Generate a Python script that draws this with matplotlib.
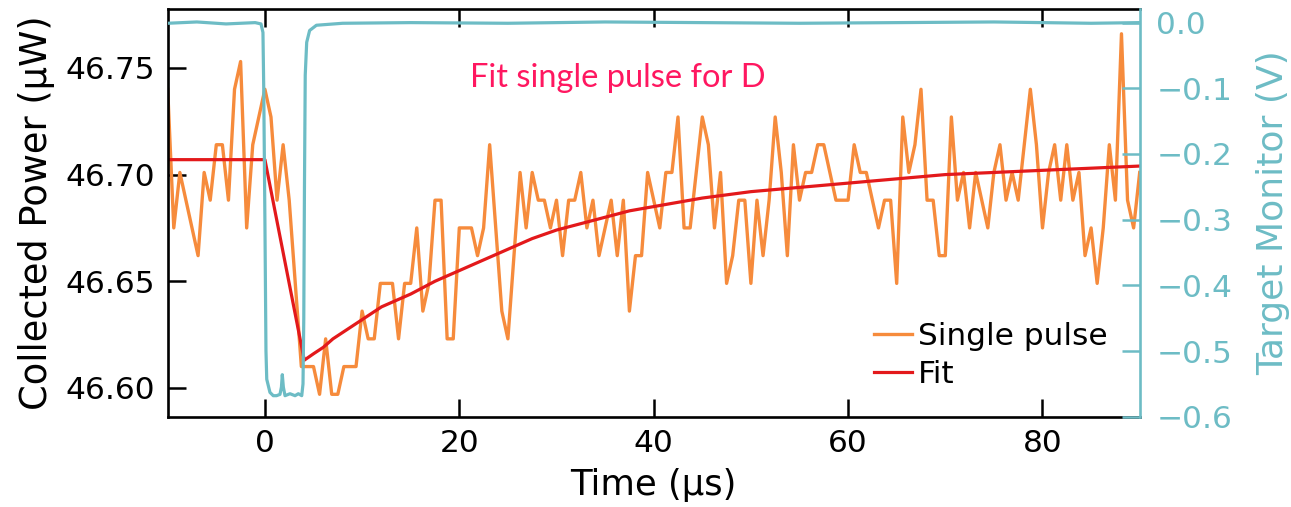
#!/usr/bin/env python3
"""Single-pulse recovery: collected power, exponential fit and target monitor trace."""

import numpy as np
import matplotlib
matplotlib.use('Agg')
import matplotlib.pyplot as plt

ORANGE = '#f68b3c'
RED = '#e3191b'
CYAN = '#6dbcc5'
PINK = '#ff1760'

# collected power, one sample every 0.625 us starting at -10 us (uW)
T_START = -10.0
T_STEP = 0.625
POWER = [
    46.740, 46.675, 46.701, 46.688, 46.675, 46.662, 46.701, 46.688, 46.714, 46.714,
    46.688, 46.740, 46.753, 46.675, 46.714, 46.727, 46.740, 46.727, 46.688, 46.714,
    46.688, 46.649, 46.610, 46.610, 46.610, 46.597, 46.623, 46.597, 46.597, 46.610,
    46.610, 46.610, 46.636, 46.623, 46.623, 46.649, 46.649, 46.649, 46.623, 46.649,
    46.649, 46.675, 46.636, 46.649, 46.688, 46.688, 46.623, 46.623, 46.675, 46.675,
    46.675, 46.662, 46.675, 46.714, 46.675, 46.636, 46.623, 46.662, 46.701, 46.675,
    46.701, 46.688, 46.688, 46.675, 46.688, 46.662, 46.688, 46.688, 46.701, 46.675,
    46.688, 46.662, 46.675, 46.688, 46.662, 46.688, 46.636, 46.662, 46.662, 46.701,
    46.688, 46.675, 46.701, 46.701, 46.727, 46.675, 46.675, 46.701, 46.727, 46.714,
    46.675, 46.701, 46.649, 46.662, 46.688, 46.688, 46.649, 46.688, 46.662, 46.688,
    46.727, 46.701, 46.662, 46.714, 46.688, 46.701, 46.701, 46.714, 46.714, 46.701,
    46.688, 46.688, 46.688, 46.714, 46.701, 46.701, 46.688, 46.675, 46.688, 46.688,
    46.649, 46.727, 46.701, 46.714, 46.740, 46.688, 46.688, 46.662, 46.662, 46.727,
    46.688, 46.701, 46.675, 46.701, 46.688, 46.675, 46.701, 46.714, 46.688, 46.701,
    46.688, 46.714, 46.740, 46.714, 46.675, 46.701, 46.714, 46.688, 46.714, 46.688,
    46.701, 46.662, 46.675, 46.649, 46.675, 46.714, 46.688, 46.766, 46.688, 46.675,
    46.701,
]

# fitted curve
FIT_T = [-10, 0, 4.05, 5, 6, 7, 8, 9, 10, 11, 12, 13.5, 15, 17.5, 20, 22.5, 25,
         27.5, 30, 32.5, 35, 37.5, 40, 45, 50, 55, 60, 65, 70, 75, 80, 85, 90]
FIT_P = [46.707, 46.707, 46.613, 46.616, 46.619, 46.623, 46.626, 46.629, 46.632,
         46.635, 46.638, 46.641, 46.644, 46.650, 46.655, 46.660, 46.665, 46.670,
         46.674, 46.677, 46.680, 46.683, 46.685, 46.689, 46.692, 46.694, 46.696,
         46.698, 46.700, 46.701, 46.702, 46.703, 46.704]

# target monitor (V)
MON_T = [-10, -7, -4, -1, -0.4, -0.2, -0.12, 0.0, 0.11, 0.19, 0.52, 0.86, 1.2,
         1.55, 1.7, 1.79, 1.9, 2.07, 2.58, 3.1, 3.44, 3.79, 3.92, 4.0, 4.07,
         4.15, 4.3, 4.6, 5.3, 8, 15, 25, 35, 45, 55, 65, 75, 85, 90]
MON_V = [-0.001, 0.001, -0.002, 0.0, -0.002, -0.015, -0.1, -0.3, -0.5, -0.543,
         -0.563, -0.568, -0.568, -0.566, -0.555, -0.536, -0.555, -0.568, -0.565,
         -0.568, -0.565, -0.568, -0.55, -0.45, -0.25, -0.08, -0.03, -0.012,
         -0.004, -0.001, 0.0, -0.001, 0.001, 0.0, -0.001, 0.0, 0.001, -0.001, 0.0]


def plot():
    fig = plt.figure(figsize=(12.91, 5.07), dpi=100)
    ax = fig.add_axes([0.1299, 0.1781, 0.7529, 0.8032])
    ax2 = ax.twinx()

    t = T_START + T_STEP * np.arange(len(POWER))
    ax.plot(t, POWER, color=ORANGE, lw=2.4, label='Single pulse')
    ax.plot(FIT_T, FIT_P, color=RED, lw=2.3, label='Fit')
    ax2.plot(MON_T, MON_V, color=CYAN, lw=2.3)

    ax.set_xlim(-10, 90)
    ax.set_ylim(46.5865, 46.7774)
    ax2.set_ylim(-0.6, 0.02)
    ax.set_xticks([0, 20, 40, 60, 80])
    ax.set_yticks([46.60, 46.65, 46.70, 46.75])
    ax2.set_yticks([-0.6, -0.5, -0.4, -0.3, -0.2, -0.1, 0.0])
    ax.ticklabel_format(axis='y', useOffset=False)

    ax.tick_params(direction='in', length=13, width=1.8, top=True,
                   labelsize=22.5, pad=9)
    ax2.tick_params(axis='y', direction='in', length=13, width=1.8,
                    colors=CYAN, labelsize=22.5, pad=12)

    for s in ax.spines.values():
        s.set_linewidth(1.9)
    ax.spines['right'].set_visible(False)
    for name in ('left', 'top', 'bottom'):
        ax2.spines[name].set_visible(False)
    ax2.spines['right'].set_color(CYAN)
    ax2.spines['right'].set_linewidth(1.9)

    ax.set_xlabel('Time (µs)', fontsize=25.5, labelpad=7)
    ax.set_ylabel('Collected Power (µW)', fontsize=26.5, labelpad=7.5)
    ax2.set_ylabel('Target Monitor (V)', fontsize=26, color=CYAN, labelpad=17)

    ax.legend(loc='lower left', bbox_to_anchor=(0.727, 0.067), frameon=False,
              fontsize=22.5, handlelength=1.2, handletextpad=0.2,
              labelspacing=0.3, borderaxespad=0, borderpad=0)

    fig.text(470 / 1291, 1 - 78 / 507, 'Fit single pulse for D', color=PINK,
             fontsize=23.5, family='Lato', va='center', ha='left')

    fig.savefig('out.png', dpi=100)


if __name__ == '__main__':
    plot()
